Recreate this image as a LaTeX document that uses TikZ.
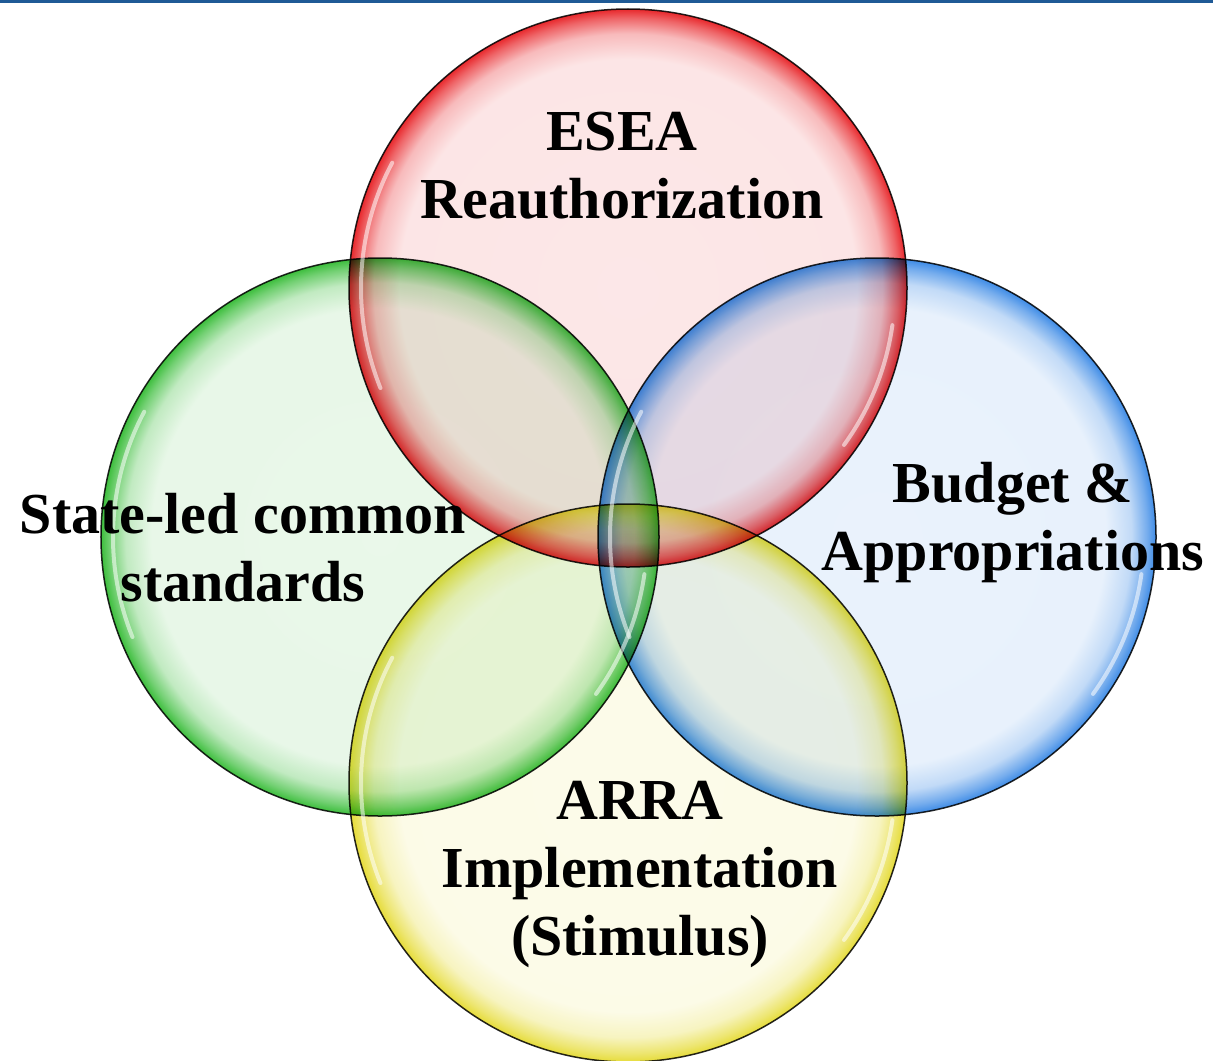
\documentclass[tikz,border=0pt]{standalone}
\usepackage{fontspec}
\setmainfont{Liberation Serif}
\usepackage{tikz}
\usetikzlibrary{positioning}
\definecolor{esearim}{HTML}{E8282C}
\definecolor{stdrim}{HTML}{3DBE3D}
\definecolor{budgetrim}{HTML}{3F8CE6}
\definecolor{arrarim}{HTML}{E6DC3A}
\definecolor{topbar}{HTML}{1F5A96}
\colorlet{rimcolor}{esearim}
% pale inside, saturated towards the rim (circle edge sits at 25bp)
\pgfdeclareradialshading[rimcolor]{bubble glow}{\pgfpoint{0bp}{0bp}}{%
  color(0bp)=(rimcolor!11!white); color(20.5bp)=(rimcolor!12!white);
  color(22.8bp)=(rimcolor!32!white); color(24.2bp)=(rimcolor!72!white);
  color(25bp)=(rimcolor); color(50bp)=(rimcolor)}
\newcommand{\VennLabelFont}{\fontsize{58bp}{68bp}\selectfont\bfseries}
\tikzset{
  bubble/.style={
    circle, minimum size=558bp, inner sep=0pt, outer sep=0pt,
    shading=bubble glow, draw=black!85, line width=1.5bp
  },
  gloss/.style={draw=white, line width=4bp, line cap=round, opacity=0.55},
  venn label/.style={font=\VennLabelFont, align=center, inner sep=0pt, anchor=base}
}

\begin{document}
\begin{tikzpicture}[x=1bp, y=-1bp]
    \useasboundingbox (0,0) rectangle (1213,1061);
    \fill[topbar] (0,0) rectangle (1213,2.6);
    % the four discs, multiplied so the overlaps darken
    \begin{scope}[blend mode=multiply]
        \foreach \name/\cx/\cy/\tint in {esea/628/288/esearim, std/380/537/stdrim,
                                         budget/877/537/budgetrim, arra/628/783/arrarim} {
            \colorlet{rimcolor}{\tint}
            \node[bubble] (\name-disc) at (\cx,\cy) {};
        }
    \end{scope}
    \foreach \cx/\cy in {628/288, 380/537, 877/537, 628/783} {
        \draw[gloss] (\cx,\cy) ++(158:267) arc[start angle=158, end angle=208, radius=267];
        \draw[gloss] (\cx,\cy) ++(8:267) arc[start angle=8, end angle=36, radius=267];
    }
    % base anchor = baseline of the last line
    \node[venn label] (esea-label) at (622,218) {ESEA\\Reauthorization};
    \node[venn label] (std-label) at (243,601) {State-led common\\standards};
    \node[venn label] (budget-label) at (1013,570) {Budget \&\\Appropriations};
    \node[venn label] (arra-label) at (640,955) {ARRA\\Implementation\\(Stimulus)};
\end{tikzpicture}
\end{document}
